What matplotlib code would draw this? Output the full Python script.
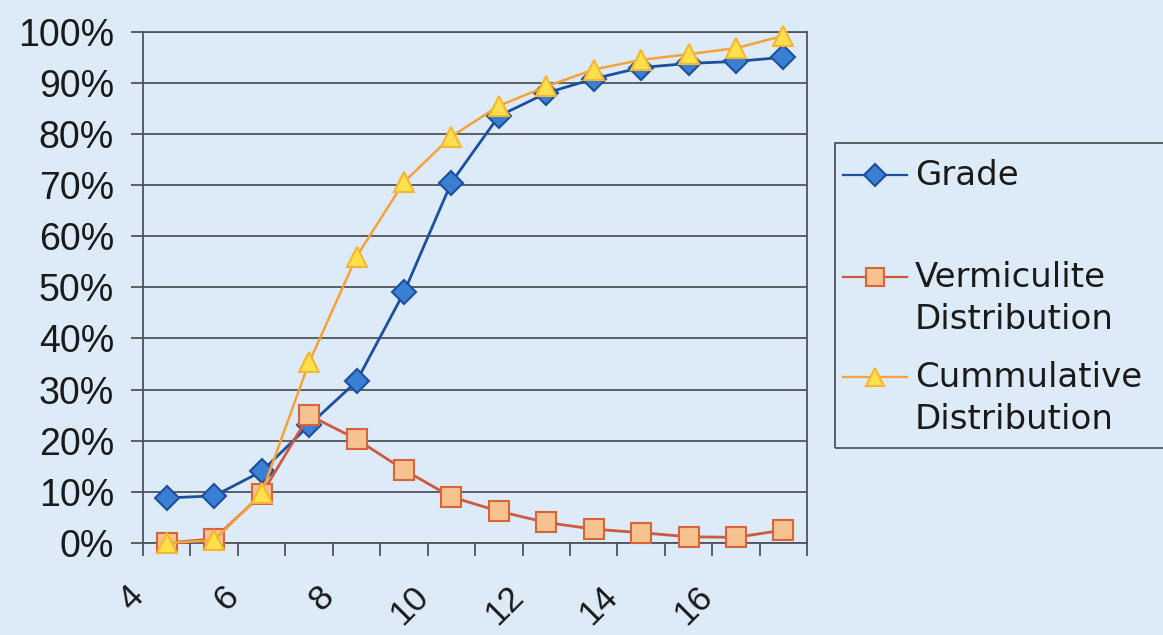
import matplotlib
matplotlib.use("Agg")
import matplotlib.pyplot as plt
from matplotlib.lines import Line2D
from matplotlib.patches import Rectangle
from matplotlib.ticker import FixedLocator, NullFormatter

plt.rcParams['font.family'] = ['Liberation Sans', 'DejaVu Sans']

# sizes (x axis categories) and the three series, in percent
sizes = [4, 5, 6, 7, 8, 9, 10, 11, 12, 13, 14, 15, 16, 17]
tick_labels = ['4', '6', '8', '10', '12', '14', '16']
grade = [8.8, 9.2, 14.0, 23.0, 31.6, 49.0, 70.5, 83.5, 88.0, 90.8, 93.0, 93.8, 94.2, 95.0]
vermiculite = [0.0, 0.8, 9.5, 25.0, 20.3, 14.3, 9.0, 6.2, 4.0, 2.7, 2.0, 1.2, 1.1, 2.5]
cumulative = [0.0, 0.5, 9.7, 35.3, 56.0, 70.6, 79.5, 85.5, 89.3, 92.6, 94.5, 95.6, 96.8, 99.2]
legend_labels = ['Grade', 'Vermiculite\nDistribution', 'Cummulative\nDistribution']

bg = '#dcebf7'
grid_c = '#505458'

fig = plt.figure(figsize=(11.63, 6.35), dpi=100, facecolor=bg)
ax = fig.add_axes([0.123, 0.145, 0.571, 0.805], facecolor=bg)

xs = [i + 0.5 for i in range(len(sizes))]

styles = [
    dict(color='#1d4f9e', marker='D', mfc='#3a80d2', mec='#1d4f9e', ms=12, lw=2.0),
    dict(color='#cc5a40', marker='s', mfc='#f6c390', mec='#d9643c', ms=14, lw=2.0),
    dict(color='#f5a23c', marker='^', mfc='#ffe04a', mec='#f5b535', ms=14, lw=1.8),
]
series = [grade, vermiculite, cumulative]

for vals, st in zip(series, styles):
    ax.plot(xs, vals, mew=1.5, zorder=3, clip_on=False, **st)

ax.set_xlim(0, len(sizes))
ax.set_ylim(0, 100)

ax.set_yticks(range(0, 101, 10))
ax.set_yticklabels([f'{v}%' for v in range(0, 101, 10)])
ax.yaxis.grid(True, color=grid_c, lw=1.3)
ax.set_axisbelow(True)

# category boundaries get tick marks, labels every other boundary
ax.xaxis.set_major_locator(FixedLocator(range(0, len(sizes) + 1)))
ax.xaxis.set_major_formatter(NullFormatter())
for i, lab in enumerate(tick_labels):
    ax.text(i * 2 + 0.15, -0.072, lab, transform=ax.get_xaxis_transform(),
            rotation=45, ha='right', va='top', fontsize=25.5, color='#1a1a1a')

ax.tick_params(axis='y', labelsize=27, length=9, width=1.3, color=grid_c,
               pad=12, labelcolor='#1a1a1a')
ax.tick_params(axis='x', length=9, width=1.3, color=grid_c, direction='out')
for sp in ax.spines.values():
    sp.set_color(grid_c)
    sp.set_linewidth(1.3)

# legend box drawn by hand so handles sit on first line of each label
W, H = 1163.0, 635.0
fig.patches.append(Rectangle((835 / W, 1 - 448 / H), 340 / W, 305 / H,
                             transform=fig.transFigure, fill=False,
                             ec=grid_c, lw=1.3))
rows = [175, 277, 377]
for y, lab, st in zip(rows, legend_labels, styles):
    yf = 1 - y / H
    fig.lines.append(Line2D([843 / W, 907 / W], [yf, yf], transform=fig.transFigure,
                            color=st['color'], lw=1.6))
    fig.lines.append(Line2D([875 / W], [yf], transform=fig.transFigure,
                            marker=st['marker'], mfc=st['mfc'], mec=st['mec'],
                            ms=st['ms'] - 1, mew=1.5, ls='none'))
    fig.text(915 / W, yf + 16 / H, lab, fontsize=24.5, va='top', ha='left',
             family='DejaVu Sans', color='#1a1a1a', linespacing=1.33,
             transform=fig.transFigure)

fig.savefig('out.png', dpi=100, facecolor=bg)
